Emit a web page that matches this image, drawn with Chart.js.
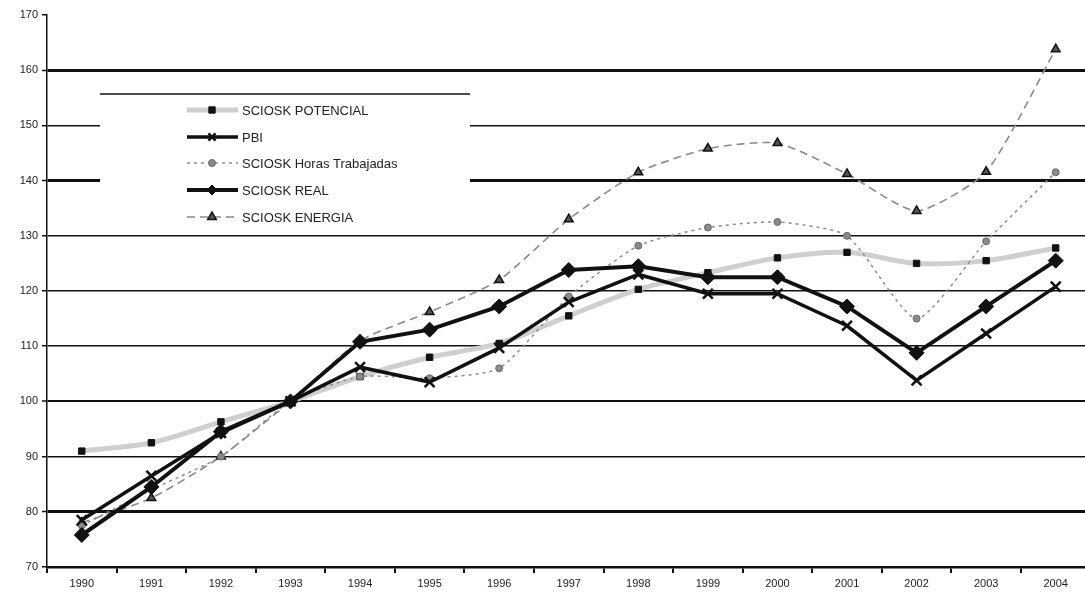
<!DOCTYPE html>
<html>
<head>
<meta charset="utf-8">
<script src="https://cdn.jsdelivr.net/npm/chart.js@4/dist/chart.umd.min.js"></script>
<style>
  html, body { margin: 0; padding: 0; background: #fff; overflow: hidden; }
  #wrap { width: 1100px; height: 596px; }
</style>
</head>
<body>
<div id="wrap"><canvas id="chart" width="1100" height="596"></canvas></div>
<script>
// Series (index 1993 = 100)
const YEARS     = ['1990','1991','1992','1993','1994','1995','1996','1997','1998','1999','2000','2001','2002','2003','2004'];
const POTENCIAL = [91.0, 92.5, 96.3, 100, 104.5, 108.0, 110.5, 115.5, 120.3, 123.3, 126.0, 127.0, 125.0, 125.5, 127.8];
const PBI       = [78.5, 86.5, 94.3, 100, 106.2, 103.5, 109.7, 118.0, 123.0, 119.5, 119.5, 113.7, 103.8, 112.3, 120.8];
const HORAS     = [77.5, 84.0, 90.0, 100, 104.5, 104.2, 106.0, 119.0, 128.2, 131.5, 132.5, 130.0, 115.0, 129.0, 141.5];
const REAL      = [75.8, 84.5, 94.5, 100, 110.8, 113.0, 117.2, 123.8, 124.5, 122.5, 122.5, 117.2, 108.8, 117.2, 125.5];
const ENERGIA   = [78.0, 82.5, 90.0, 100, 111.0, 116.2, 122.0, 133.0, 141.5, 145.8, 146.8, 141.2, 134.5, 141.6, 163.8];

const Y_MIN = 70, Y_MAX = 170, Y_STEP = 10;
const THICK_LINES = [160, 140, 80];

const FONT = '"Liberation Sans", Arial, sans-serif';

const datasets = [
  { label: 'SCIOSK POTENCIAL', data: POTENCIAL, order: 5,
    borderColor: '#cfcfcf', borderWidth: 5, tension: 0.3,
    pointStyle: 'rect', pointRadius: 4.5, pointBackgroundColor: '#111', pointBorderColor: '#111', pointBorderWidth: 1 },
  { label: 'PBI', data: PBI, order: 2,
    borderColor: '#111', borderWidth: 3.5, tension: 0,
    pointStyle: 'crossRot', pointRadius: 7, pointBorderColor: '#111', pointBorderWidth: 2.5 },
  { label: 'SCIOSK Horas Trabajadas', data: HORAS, order: 3,
    borderColor: '#8c8c8c', borderWidth: 1.5, borderDash: [3, 4], tension: 0.2,
    pointStyle: 'circle', pointRadius: 3.5, pointBackgroundColor: '#8a8a8a', pointBorderColor: '#6a6a6a', pointBorderWidth: 1 },
  { label: 'SCIOSK REAL', data: REAL, order: 1,
    borderColor: '#111', borderWidth: 4, tension: 0,
    pointStyle: 'rectRot', pointRadius: 7.5, pointBackgroundColor: '#111', pointBorderColor: '#111', pointBorderWidth: 1 },
  { label: 'SCIOSK ENERGIA', data: ENERGIA, order: 4,
    borderColor: '#8a8a8a', borderWidth: 1.6, borderDash: [8, 5], tension: 0.2,
    pointStyle: 'triangle', pointRadius: 5, pointBackgroundColor: '#555', pointBorderColor: '#111', pointBorderWidth: 1.5 },
];

// Legend box sitting inside the plot, like the original
const boxLegend = {
  id: 'boxLegend',
  afterDraw(chart) {
    const ctx = chart.ctx;
    const x0 = 100, y0 = 94, w = 370, h = 136;
    ctx.save();
    ctx.fillStyle = '#fff';
    ctx.fillRect(x0, y0, w, h);
    ctx.strokeStyle = '#111';
    ctx.lineWidth = 1.5;
    ctx.beginPath(); ctx.moveTo(x0, y0); ctx.lineTo(x0 + w, y0); ctx.stroke();

    const rowY = [110, 137, 163, 190, 217];
    chart.data.datasets.forEach((ds, i) => {
      const y = rowY[i];
      ctx.setLineDash(ds.borderDash || []);
      ctx.strokeStyle = ds.borderColor;
      ctx.lineWidth = ds.borderWidth;
      ctx.beginPath(); ctx.moveTo(187, y); ctx.lineTo(238, y); ctx.stroke();
      ctx.setLineDash([]);
      ctx.fillStyle = ds.pointBackgroundColor || ds.pointBorderColor;
      ctx.strokeStyle = ds.pointBorderColor;
      ctx.lineWidth = ds.pointBorderWidth;
      Chart.helpers.drawPoint(ctx, {
        pointStyle: ds.pointStyle, radius: Math.min(ds.pointRadius, 5),
        rotation: 0, borderWidth: ds.pointBorderWidth
      }, 212, y);
      ctx.fillStyle = '#222';
      ctx.font = '13px ' + FONT;
      ctx.textBaseline = 'middle';
      ctx.fillText(ds.label, 242, y + 1);
    });
    ctx.restore();
  }
};

new Chart(document.getElementById('chart'), {
  type: 'line',
  data: { labels: YEARS, datasets },
  plugins: [boxLegend],
  options: {
    responsive: false,
    animation: false,
    layout: { padding: { top: 15, right: 2, left: 0, bottom: 0 } },
    plugins: { legend: { display: false }, tooltip: { enabled: false } },
    scales: {
      x: {
        offset: true,
        afterFit: s => { s.height = 29; },
        grid: { offset: true, drawOnChartArea: false, drawTicks: true, tickLength: 6, color: '#111', lineWidth: 2 },
        border: { color: '#111', width: 2.5 },
        ticks: { color: '#222', font: { family: FONT, size: 11 }, padding: 4, maxRotation: 0, autoSkip: false }
      },
      y: {
        min: Y_MIN, max: Y_MAX,
        afterFit: s => { s.width = 47; },
        grid: {
          color: c => (c.tick && c.tick.value === Y_MAX) ? 'rgba(0,0,0,0)' : '#111',
          lineWidth: c => (c.tick && THICK_LINES.includes(c.tick.value)) ? 3 : (c.tick && c.tick.value === 100 ? 2 : 1.5),
          tickColor: '#111', tickWidth: 1.5, tickLength: 5
        },
        border: { color: '#111', width: 1.5 },
        ticks: { stepSize: Y_STEP, color: '#222', font: { family: FONT, size: 11 }, padding: 4 }
      }
    }
  }
});
</script>
</body>
</html>
